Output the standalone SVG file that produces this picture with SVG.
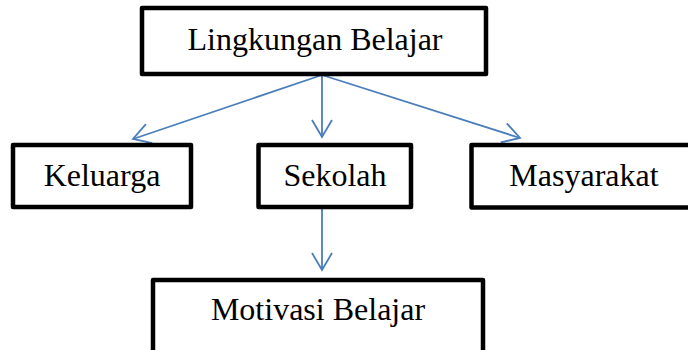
<svg xmlns="http://www.w3.org/2000/svg" width="688" height="350" viewBox="0 0 688 350">
<style>
.box{fill:#fff;stroke:#000;stroke-width:4.5;stroke-linejoin:round}
.lbl{font-family:"Liberation Serif","Times New Roman",serif;font-size:32px;fill:#000;text-anchor:middle}
.con{fill:none;stroke:#4A7EBB;stroke-width:1.8}
</style>
<defs>
<marker id="arr" markerUnits="userSpaceOnUse" markerWidth="40" markerHeight="40" viewBox="-20 -20 40 40" refX="0" refY="0" orient="auto" overflow="visible">
<path d="M-17,-10 L0,0 L-17,10" fill="none" stroke="#4A7EBB" stroke-width="1.8"/>
</marker>
</defs>
<rect width="688" height="350" fill="#fff"/>
<g id="connectors">
<line class="con" x1="322" y1="75" x2="133" y2="139" marker-end="url(#arr)"/>
<line class="con" x1="322" y1="75" x2="322" y2="137" marker-end="url(#arr)"/>
<line class="con" x1="322" y1="75" x2="520" y2="138" marker-end="url(#arr)"/>
<line class="con" x1="322" y1="209" x2="322" y2="270" marker-end="url(#arr)"/>
</g>
<g id="lingkungan">
<rect class="box" x="142" y="8" width="344" height="66"/>
<text class="lbl" x="315" y="50">Lingkungan Belajar</text>
</g>
<g id="keluarga">
<rect class="box" x="13" y="145" width="178" height="62"/>
<text class="lbl" x="102" y="186">Keluarga</text>
</g>
<g id="sekolah">
<rect class="box" x="258.5" y="145" width="152.5" height="62"/>
<text class="lbl" x="335" y="186">Sekolah</text>
</g>
<g id="masyarakat">
<rect class="box" x="471.5" y="145" width="226" height="62.5"/>
<text class="lbl" x="584" y="186">Masyarakat</text>
</g>
<g id="motivasi">
<rect class="box" x="153" y="280" width="330" height="100"/>
<text class="lbl" x="318" y="320">Motivasi Belajar</text>
</g>
</svg>
